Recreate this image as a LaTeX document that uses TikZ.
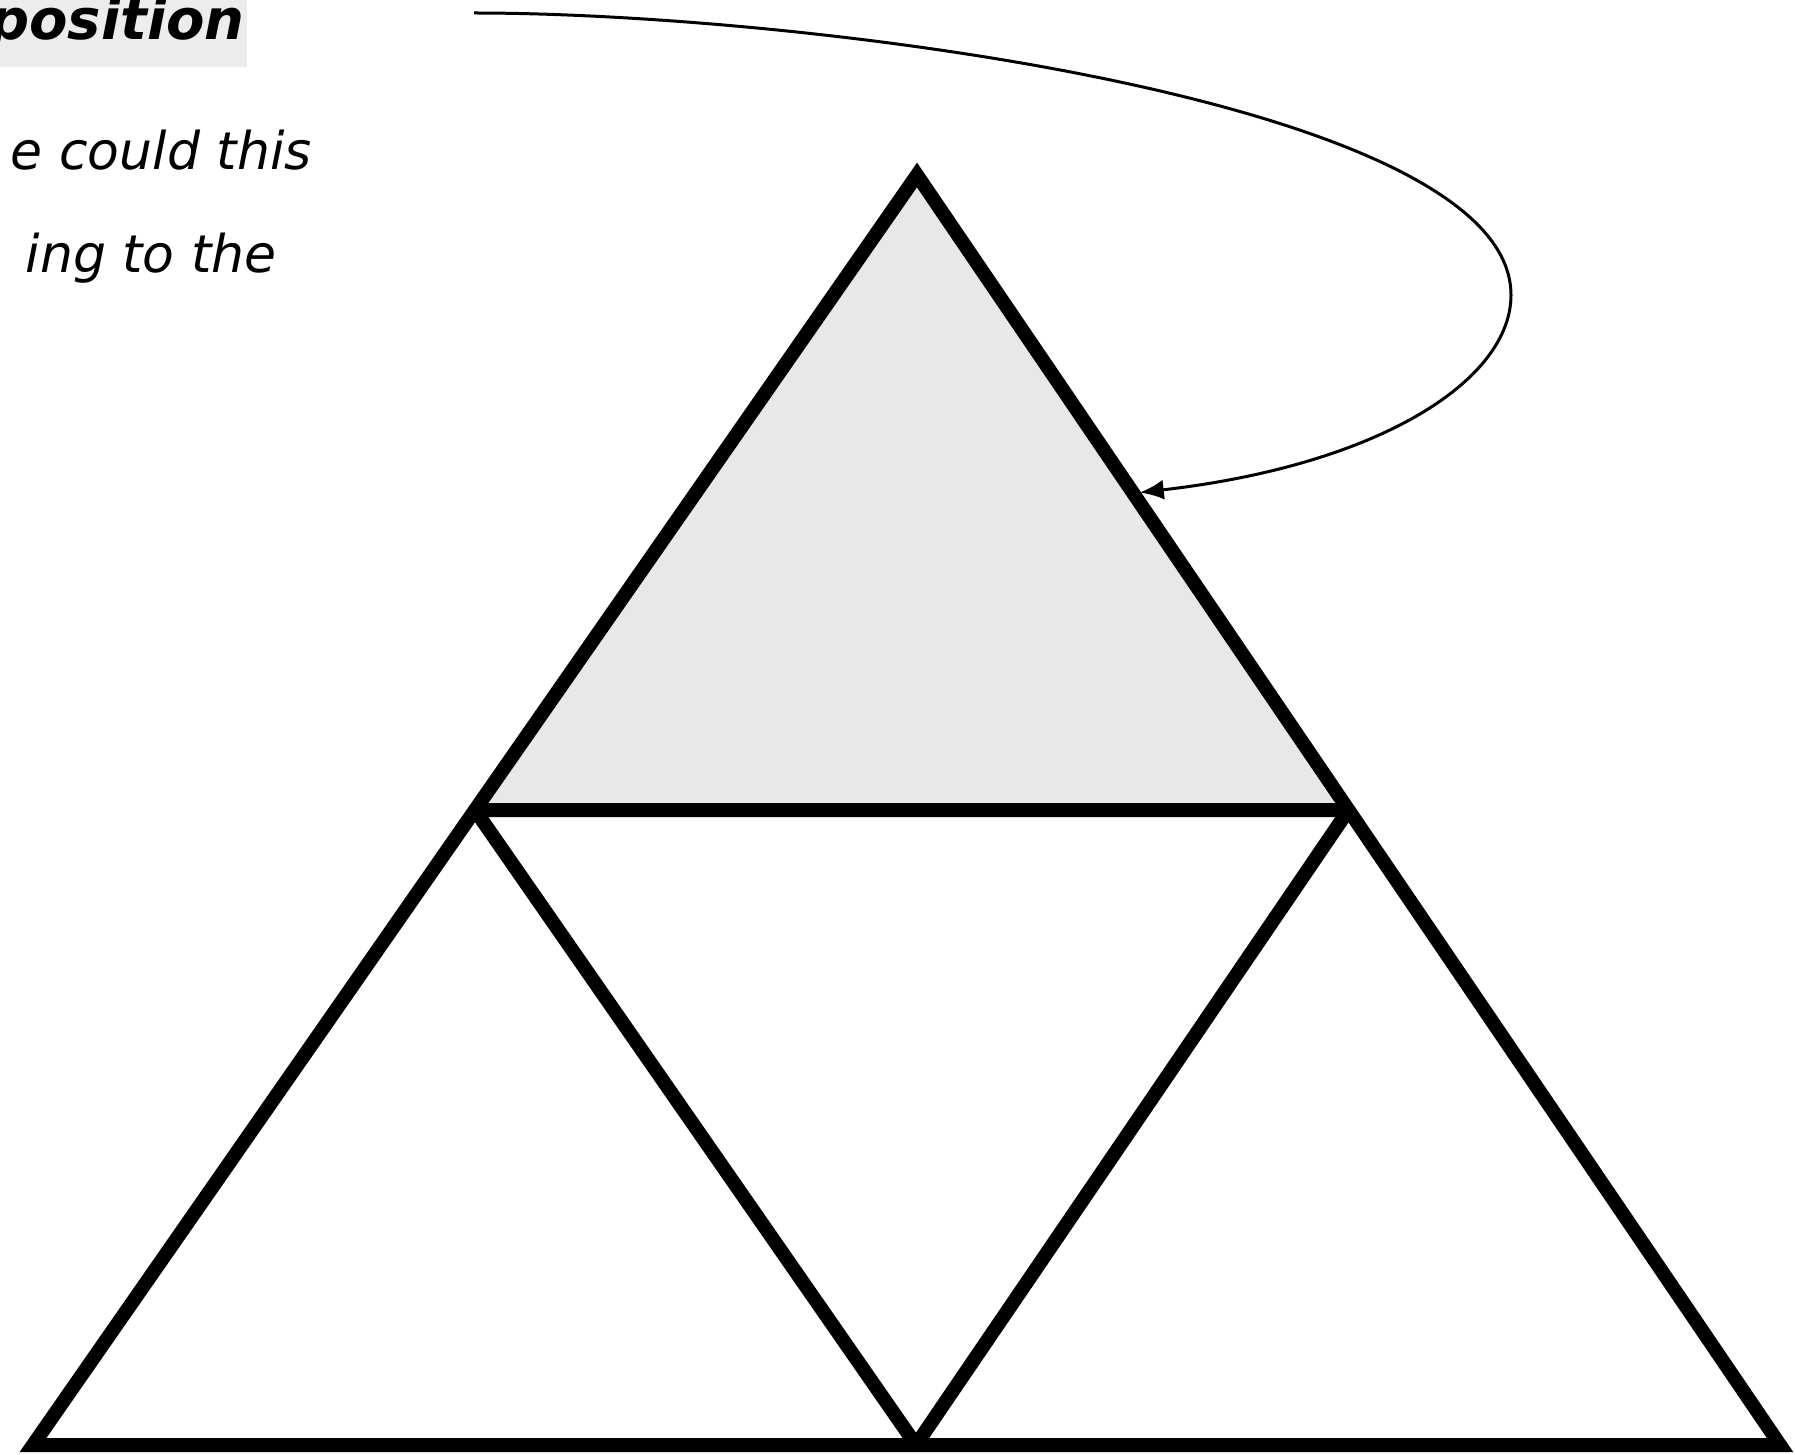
\documentclass[tikz,border=0pt]{standalone}
\usepackage{fontspec}
\setmainfont{DejaVu Sans}
\usepackage{tikz}
\usetikzlibrary{arrows.meta,calc}
\definecolor{triGray}{RGB}{232,232,232}
\definecolor{hilite}{RGB}{236,236,236}
\newcommand{\notefont}{\fontsize{26}{31}\selectfont\itshape}
\newcommand{\titlefont}{\fontsize{28}{34}\selectfont\bfseries\itshape}

\begin{document}
\begin{tikzpicture}[
    x=0.5pt, y=-0.5pt,
    edge/.style={line width=7pt, draw=black},
    arr/.style={-{Latex[length=12pt,width=10pt]}, line width=1.5pt, draw=black},
    note/.style={inner sep=0pt, anchor=base east, font=\notefont}
  ]
  \useasboundingbox (0,0) rectangle (1795,1455);
  \clip (0,0) rectangle (1795,1455);
  % corners of the big triangle
  \coordinate (apex) at (917,175);
  \coordinate (botL) at (33,1445);
  \coordinate (botM) at (916,1445);
  \coordinate (botR) at (1780,1445);
  \coordinate (midL) at ($(apex)!0.5!(botL)$);
  \coordinate (midR) at ($(apex)!0.5!(botR)$);

  % note in the corner
  \fill[hilite] (0,0) rectangle (247,67);
  \node[note, font=\titlefont] (title) at (245,40) {position};
  \node[note] (line1) at (312,170) {e could this};
  \node[note] (line2) at (277,273) {ing to the};

  % the triangles
  \fill[triGray] (apex) -- (midL) -- (midR) -- cycle;
  \draw[edge] (botL) -- (apex) -- (botR) -- cycle;
  \draw[edge, line join=round] (midL) -- (midR) -- (botM) -- cycle;

  % pointer onto the top triangle
  \coordinate (start) at (474,13);
  \coordinate (bend) at (1511,295);
  \coordinate (hit) at ($(apex)!0.5!(midR)+(7,0)$);
  \draw[arr] (start) .. controls (800,13) and (1511,100) .. (bend)
    .. controls (1511,380) and (1380,465) .. (hit);
\end{tikzpicture}
\end{document}
